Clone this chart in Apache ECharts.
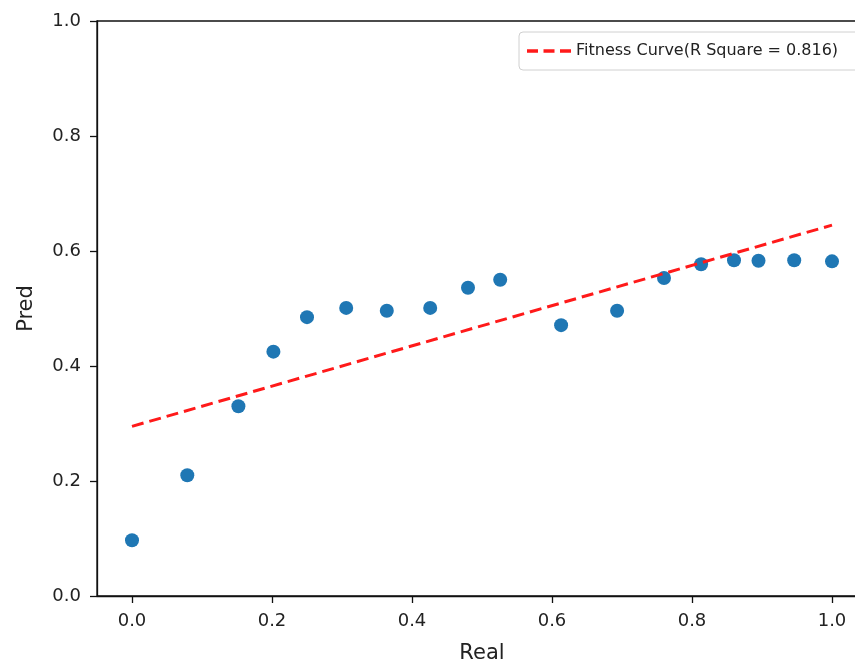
<!DOCTYPE html>
<html>
<head>
<meta charset="utf-8">
<script src="https://cdn.jsdelivr.net/npm/echarts@6/dist/echarts.min.js"></script>
<style>html,body{margin:0;padding:0;background:#fff}#c{width:855px;height:664px}</style>
</head>
<body>
<div id="c"></div>
<script>
const realValues = [0.0, 0.079, 0.152, 0.202, 0.25, 0.306, 0.364, 0.426, 0.48, 0.526, 0.613, 0.693, 0.76, 0.813, 0.86, 0.895, 0.946, 1.0];
const predValues = [0.097, 0.210, 0.330, 0.425, 0.485, 0.501, 0.496, 0.501, 0.536, 0.550, 0.471, 0.496, 0.553, 0.577, 0.584, 0.583, 0.584, 0.582];
const fitX = [0.0, 1.0];
const fitY = [0.295, 0.645];
const xTicks = [0.0, 0.2, 0.4, 0.6, 0.8, 1.0];
const legendLabel = 'Fitness Curve(R Square = 0.816)';

const chart = echarts.init(document.getElementById('c'), null, {renderer: 'canvas'});
const font = 'DejaVu Sans, Noto Sans, sans-serif';
chart.setOption({
  animation: false,
  backgroundColor: '#fff',
  grid: {left: 97, width: 770, top: 21, bottom: 68, containLabel: false, outerBoundsMode: 'none', show: true, borderColor: '#111', borderWidth: 1.3, backgroundColor: 'transparent'},
  legend: {
    show: true,
    data: [{name: legendLabel, icon: 'path://M0,0h10v3h-10z M15,0h10v3h-10z M30,0h10v3h-10z'}],
    left: 519, top: 32,
    padding: [11, 40, 11, 8],
    itemWidth: 44, itemHeight: 4,
    itemGap: 8,
    borderColor: '#d0d0d0', borderWidth: 1, borderRadius: 4,
    backgroundColor: '#fff',
    itemStyle: {color: '#ff1a1a'},
    textStyle: {fontFamily: font, fontSize: 16, color: '#222'}
  },
  xAxis: {
    type: 'value', min: -0.05, max: 1.05,
    name: 'Real', nameLocation: 'middle', nameGap: 47,
    nameTextStyle: {fontFamily: font, fontSize: 21, color: '#222'},
    splitLine: {show: false},
    axisLine: {show: true, onZero: false, lineStyle: {color: '#111', width: 1.3}},
    axisTick: {show: true, inside: false, length: 7, customValues: xTicks, lineStyle: {color: '#111', width: 1.3}},
    axisLabel: {customValues: xTicks, margin: 16, fontFamily: font, fontSize: 18, color: '#222', formatter: v => v.toFixed(1)}
  },
  yAxis: {
    type: 'value', min: 0, max: 1, interval: 0.2,
    name: 'Pred', nameLocation: 'middle', nameGap: 60, nameRotate: 90,
    nameTextStyle: {fontFamily: font, fontSize: 21, color: '#222'},
    splitLine: {show: false},
    axisLine: {show: true, onZero: false, lineStyle: {color: '#111', width: 1.3}},
    axisTick: {show: true, inside: false, length: 7, lineStyle: {color: '#111', width: 1.3}},
    axisLabel: {margin: 16, fontFamily: font, fontSize: 18, color: '#222', formatter: v => v.toFixed(1)}
  },
  series: [
    {
      type: 'scatter', name: 'data',
      data: realValues.map((x, i) => [x, predValues[i]]),
      symbolSize: 14,
      itemStyle: {color: '#1f77b4', opacity: 1}
    },
    {
      type: 'line', name: legendLabel,
      data: fitX.map((x, i) => [x, fitY[i]]),
      symbol: 'none', showSymbol: false,
      lineStyle: {color: '#ff1a1a', width: 3, type: [12, 6]},
      itemStyle: {color: '#ff1a1a'}
    }
  ]
});
</script>
</body>
</html>
